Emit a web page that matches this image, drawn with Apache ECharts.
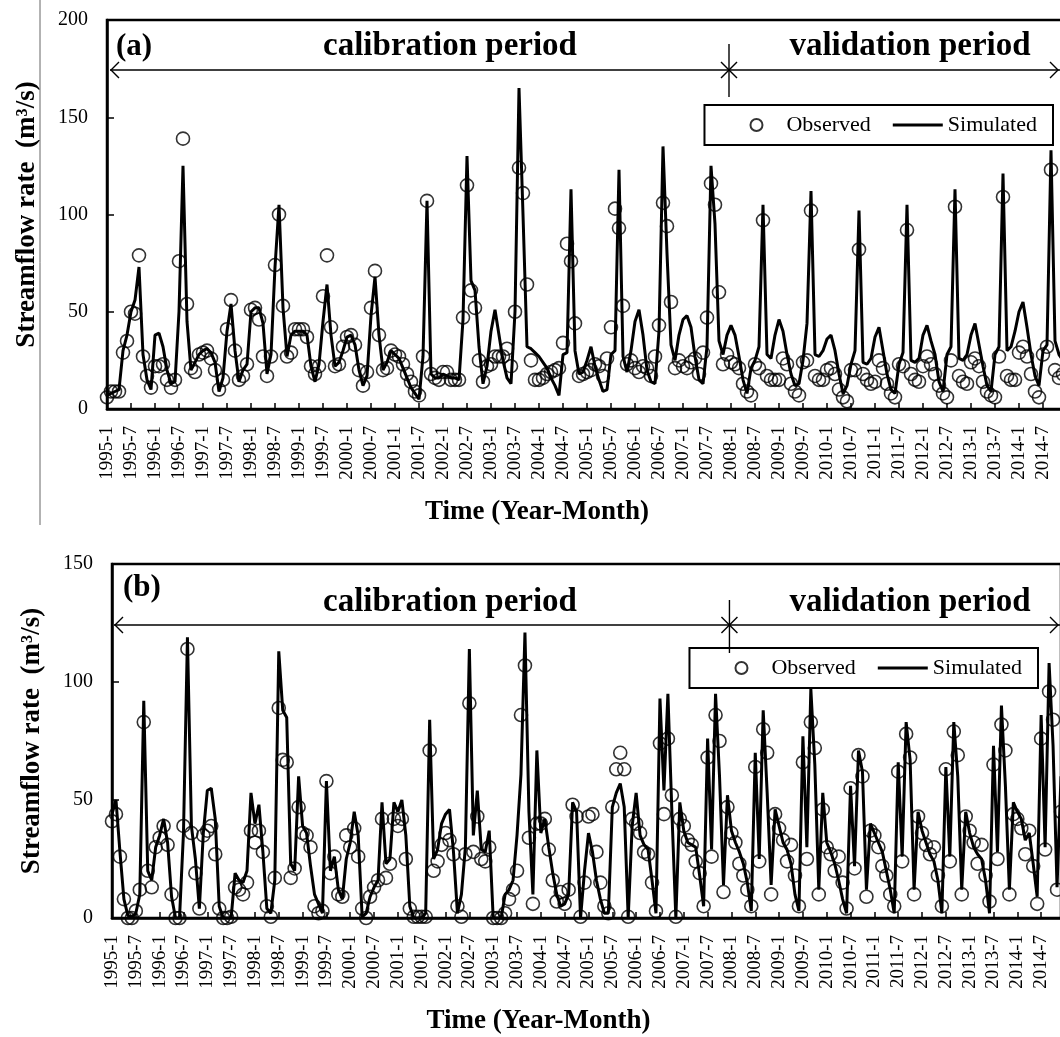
<!DOCTYPE html>
<html><head><meta charset="utf-8">
<script src="https://cdn.jsdelivr.net/npm/echarts@6/dist/echarts.min.js"></script>
<style>html,body{margin:0;padding:0;background:#fff}#c{width:1060px;height:1037px}</style>
</head><body><div id="c"></div>
<script>
const startYear = 1995, endYear = 2014;
const months = [];
for (let y = startYear; y <= endYear; y++) for (let m = 1; m <= 12; m++) months.push(y + '-' + m);

// Panel (a) observed / simulated monthly streamflow (m3/s), 1995-1 .. 2014-12
const observedA = [
  6, 9, 9, 9, 29, 35, 50, 49, 79, 27, 17, 11,
  22, 22, 23, 15, 11, 15, 76, 139, 54, 21, 19, 28,
  29, 30, 26, 20, 10, 15, 41, 56, 30, 15, 17, 23,
  51, 52, 46, 27, 17, 27, 74, 100, 53, 27, 29, 41,
  41, 41, 37, 22, 18, 22, 58, 79, 42, 22, 23, 32,
  37, 38, 33, 20, 12, 19, 52, 71, 38, 20, 21, 30,
  28, 27, 23, 18, 14, 9, 7, 27, 107, 18, 16, 15,
  19, 19, 15, 15, 15, 47, 115, 61, 52, 25, 14, 22,
  23, 27, 27, 27, 31, 22, 50, 124, 111, 64, 25, 15,
  15, 16, 18, 19, 20, 21, 34, 85, 76, 44, 17, 18,
  19, 20, 23, 22, 17, 26, 42, 103, 93, 53, 23, 25,
  21, 19, 22, 21, 17, 27, 43, 106, 94, 55, 21, 25,
  22, 21, 24, 26, 18, 29, 47, 116, 105, 60, 23, 28,
  24, 23, 21, 13, 9, 7, 23, 21, 97, 17, 15, 15,
  15, 26, 23, 13, 9, 7, 24, 25, 102, 17, 15, 15,
  20, 21, 18, 10, 6, 4, 20, 20, 82, 18, 15, 13,
  14, 25, 21, 13, 8, 6, 23, 22, 92, 18, 15, 14,
  22, 27, 23, 18, 12, 8, 6, 25, 104, 17, 14, 13,
  24, 26, 22, 14, 9, 7, 6, 27, 109, 17, 15, 15,
  29, 32, 27, 18, 9, 6, 28, 32, 123, 20, 16, 18
];
const simulatedA = [
  7, 8, 9, 10, 30, 38, 50, 56, 73, 28, 15, 10,
  38, 39, 32, 20, 13, 14, 50, 125, 45, 20, 24, 28,
  30, 31, 29, 24, 9, 16, 40, 54, 30, 14, 20, 23,
  50, 52, 52, 44, 18, 28, 73, 105, 52, 27, 38, 40,
  40, 40, 38, 22, 14, 23, 45, 64, 38, 22, 24, 30,
  37, 38, 33, 20, 12, 17, 48, 68, 38, 20, 24, 30,
  28, 26, 21, 16, 11, 8, 5, 27, 107, 18, 16, 16,
  18, 17, 16, 16, 15, 46, 130, 66, 61, 32, 13, 22,
  40, 51, 38, 25, 16, 13, 50, 165, 100, 32, 31, 29,
  27, 24, 21, 16, 12, 7, 28, 29, 113, 30, 18, 19,
  25, 32, 22, 15, 9, 10, 28, 30, 123, 27, 19, 30,
  45, 51, 38, 20, 14, 13, 40, 135, 80, 33, 25, 38,
  46, 48, 42, 27, 15, 13, 32, 125, 95, 35, 28, 38,
  43, 38, 27, 15, 8, 21, 25, 32, 105, 28, 26, 38,
  46, 40, 28, 18, 12, 13, 25, 44, 112, 28, 27, 30,
  36, 38, 30, 18, 8, 12, 23, 30, 102, 24, 23, 26,
  37, 42, 30, 18, 10, 8, 23, 29, 105, 25, 24, 26,
  38, 43, 35, 28, 14, 9, 28, 32, 113, 26, 25, 28,
  38, 44, 33, 22, 12, 9, 28, 32, 121, 30, 32, 40,
  50, 55, 42, 28, 17, 12, 30, 33, 133, 35, 28, 25
];
// Panel (b)
const observedB = [
  41, 44, 26, 8, 0, 0, 3, 12, 83, 20, 13, 30,
  34, 39, 31, 10, 0, 0, 39, 114, 36, 19, 4, 35,
  37, 39, 27, 4, 0, 0, 0.5, 13, 12, 10, 15, 37,
  32, 37, 28, 5, 0.5, 17, 89, 67, 66, 17, 21, 47,
  36, 35, 30, 5, 2, 3, 58, 19, 26, 10, 9, 35,
  30, 38, 26, 4, 0, 9, 13, 16, 42, 17, 23, 42,
  39, 42, 25, 4, 0.5, 0.5, 0.5, 0.5, 71, 20, 24, 31,
  36, 33, 27, 5, 0.5, 27, 91, 28, 43, 25, 24, 30,
  0, 0, 0, 2, 8, 12, 20, 86, 107, 34, 6, 40,
  40, 42, 29, 16, 7, 11, 6, 12, 48, 43, 0.5, 15,
  43, 44, 28, 15, 5, 2, 47, 63, 70, 63, 0.5, 42,
  40, 36, 28, 27, 15, 3, 74, 44, 76, 52, 0.5, 42,
  39, 33, 31, 24, 19, 5, 68, 26, 86, 75, 11, 47,
  36, 32, 23, 18, 12, 5, 64, 24, 80, 70, 10, 44,
  38, 33, 24, 31, 18, 5, 66, 25, 83, 72, 10, 46,
  30, 27, 20, 26, 15, 4, 55, 21, 69, 60, 9, 37,
  35, 30, 22, 18, 10, 5, 62, 24, 78, 68, 10, 43,
  36, 31, 27, 30, 18, 5, 63, 24, 79, 69, 10, 43,
  37, 32, 23, 31, 18, 7, 65, 25, 82, 71, 10, 44,
  42, 38, 27, 37, 22, 6, 76, 29, 96, 84, 12, 45
];
const simulatedB = [
  44, 50, 28, 8, 1, 0.5, 2, 10, 92, 20, 16, 30,
  35, 42, 32, 9, 0, 0, 36, 119, 39, 25, 4, 36,
  54, 55, 42, 5, 0, 0, 0, 19, 16, 15, 20, 53,
  40, 48, 28, 4, 2, 16, 113, 88, 85, 23, 20, 60,
  39, 36, 22, 10, 6, 2, 58, 20, 26, 12, 8, 25,
  32, 45, 35, 0.5, 2, 9, 13, 16, 49, 23, 25, 49,
  45, 50, 35, 5, 0, 0, 0, 2, 84, 25, 29, 40,
  44, 46, 28, 2, 10, 30, 114, 35, 54, 29, 28, 37,
  0, 0, 0, 10, 12, 16, 35, 61, 121, 45, 10, 71,
  36, 42, 30, 19, 10, 5, 6, 10, 49, 45, 0, 20,
  36, 28, 16, 8, 2, 2, 47, 53, 57, 47, 0, 39,
  53, 35, 31, 29, 16, 2, 93, 54, 95, 45, 0, 49,
  37, 32, 31, 30, 18, 5, 76, 29, 95, 60, 14, 52,
  37, 32, 28, 23, 15, 3, 70, 25, 88, 53, 14, 46,
  39, 32, 29, 23, 10, 3, 77, 30, 97, 65, 12, 53,
  32, 28, 23, 16, 8, 2, 56, 22, 71, 62, 12, 40,
  36, 32, 28, 20, 12, 2, 66, 26, 83, 67, 12, 45,
  37, 32, 27, 24, 16, 2, 64, 26, 83, 60, 12, 45,
  36, 30, 27, 25, 16, 2, 73, 28, 90, 56, 12, 49,
  45, 42, 33, 36, 23, 9, 86, 30, 108, 73, 13, 60
];
const yMaxA = 200, yMaxB = 150, yStep = 50;
const lastCalibration = '2007-12', firstValidation = '2008-1';

const FONT = '"Liberation Serif", "Times New Roman", serif';
const chart = echarts.init(document.getElementById('c'), null, {renderer: 'canvas'});

function xAxisFor(gi) {
  return {
    type: 'category', gridIndex: gi, data: months, boundaryGap: false,
    axisLine: {lineStyle: {color: '#000', width: 2.5}},
    axisTick: {inside: true, length: 6, interval: 5, lineStyle: {color: '#000', width: 1.5}},
    axisLabel: {interval: 5, rotate: 90, margin: 17, color: '#000', fontFamily: FONT, fontSize: 19},
    splitLine: {show: false},
    name: 'Time (Year-Month)', nameLocation: 'middle', nameGap: 90,
    nameTextStyle: {fontFamily: FONT, fontWeight: 'bold', fontSize: 27, color: '#000', padding: [0, 96, 0, 0]}
  };
}
function yAxisFor(gi, max) {
  return {
    type: 'value', gridIndex: gi, min: 0, max: max, interval: yStep,
    axisLine: {show: true, lineStyle: {color: '#000', width: 2.5}},
    axisTick: {show: true, inside: true, length: 7, lineStyle: {color: '#000', width: 1.5}},
    axisLabel: {margin: 19, color: '#000', fontFamily: FONT, fontSize: 20},
    splitLine: {show: false},
    name: 'Streamflow rate  (m³/s)', nameLocation: 'middle', nameGap: 66,
    nameTextStyle: {fontFamily: FONT, fontWeight: 'bold', fontSize: 27, color: '#000'}
  };
}
function legendAt(right, top) {
  return {
    data: ['Observed', {name: 'Simulated', icon: 'path://M0,0L100,0L100,6L0,6Z'}],
    right: right, top: top, orient: 'horizontal',
    padding: [9, 16, 9, 45], itemGap: 22, itemWidth: 50, itemHeight: 12,
    borderColor: '#000', borderWidth: 2, selectedMode: false,
    textStyle: {fontFamily: FONT, fontSize: 22, color: '#000'}
  };
}
const obsStyle = {color: 'rgba(0,0,0,0)', borderColor: '#000', borderWidth: 1.6};

chart.setOption({
  animation: false,
  backgroundColor: '#fff',
  grid: [
    {left: 107, top: 20, width: 956, height: 389, show: true, borderColor: '#000', borderWidth: 2.5, outerBoundsMode: 'none'},
    {left: 112, top: 564, width: 949, height: 354, show: true, borderColor: '#000', borderWidth: 2.5, outerBoundsMode: 'none'}
  ],
  xAxis: [xAxisFor(0), xAxisFor(1)],
  yAxis: [yAxisFor(0, yMaxA), yAxisFor(1, yMaxB)],
  legend: [legendAt(7, 105), legendAt(22, 648)],
  series: [
    {type: 'line', name: 'Simulated', xAxisIndex: 0, yAxisIndex: 0, data: simulatedA, symbol: 'none',
     lineStyle: {color: '#000', width: 3}, itemStyle: {color: '#000'}, z: 2},
    {type: 'scatter', name: 'Observed', xAxisIndex: 0, yAxisIndex: 0, data: observedA, symbol: 'circle',
     symbolSize: 13, itemStyle: obsStyle, z: 3},
    {type: 'line', name: 'Simulated', xAxisIndex: 1, yAxisIndex: 1, data: simulatedB, symbol: 'none',
     lineStyle: {color: '#000', width: 3}, itemStyle: {color: '#000'}, z: 2},
    {type: 'scatter', name: 'Observed', xAxisIndex: 1, yAxisIndex: 1, data: observedB, symbol: 'circle',
     symbolSize: 13, itemStyle: obsStyle, z: 3}
  ]
});

function annot(gi, arrowY, txtY, labelTxt, labelX, labelY, yTop, yBot, xStart) {
  const x1 = chart.convertToPixel({xAxisIndex: gi}, lastCalibration);
  const x2 = chart.convertToPixel({xAxisIndex: gi}, firstValidation);
  const xd = (x1 + x2) / 2;
  const ln = {stroke: '#000', lineWidth: 1.4, fill: null};
  return [
    {type: 'line', shape: {x1: xStart, y1: arrowY, x2: 1062, y2: arrowY}, style: ln},
    {type: 'polyline', shape: {points: [[xStart + 9, arrowY - 8], [xStart + 1, arrowY], [xStart + 9, arrowY + 8]]}, style: ln},
    {type: 'polyline', shape: {points: [[1050, arrowY - 8], [1058, arrowY], [1050, arrowY + 8]]}, style: ln},
    {type: 'line', shape: {x1: xd, y1: yTop, x2: xd, y2: yBot}, style: ln},
    {type: 'line', shape: {x1: xd - 8, y1: arrowY - 8, x2: xd + 8, y2: arrowY + 8}, style: ln},
    {type: 'line', shape: {x1: xd - 8, y1: arrowY + 8, x2: xd + 8, y2: arrowY - 8}, style: ln},
    {type: 'text', x: labelX, y: labelY, style: {text: labelTxt, font: 'bold 31px ' + FONT, fill: '#000', textAlign: 'left', textVerticalAlign: 'middle'}},
    {type: 'text', x: 450, y: txtY, style: {text: 'calibration period', font: 'bold 33px ' + FONT, fill: '#000', textAlign: 'center', textVerticalAlign: 'middle'}},
    {type: 'text', x: 910, y: txtY, style: {text: 'validation period', font: 'bold 33px ' + FONT, fill: '#000', textAlign: 'center', textVerticalAlign: 'middle'}}
  ];
}
const graphics = [].concat(
  annot(0, 70, 46, '(a)', 116, 47, 44, 97, 110),
  annot(1, 625, 602, '(b)', 123, 588, 600, 653, 114),
  [{type: 'line', shape: {x1: 40, y1: 0, x2: 40, y2: 525}, style: {stroke: '#666', lineWidth: 1}}]
);
chart.setOption({graphic: graphics});
</script></body></html>
